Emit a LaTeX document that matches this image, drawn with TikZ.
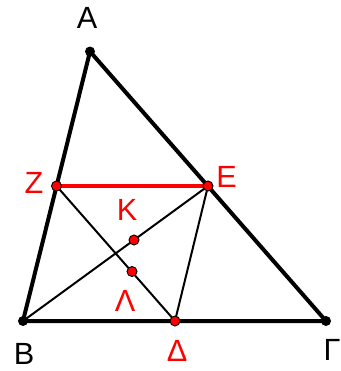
\documentclass[tikz,border=0pt]{standalone}
\usepackage{fontspec}
\setmainfont{Liberation Sans}
\begin{document}
\begin{tikzpicture}[x=0.75pt,y=-0.75pt,
  thickline/.style={line width=3pt},
  thinline/.style={line width=1.5pt},
  redline/.style={line width=2.7pt,red},
  bdot/.style={circle,fill=black,inner sep=0pt,minimum size=7.5pt},
  rdot/.style={circle,fill=red,draw=black,line width=0.7pt,inner sep=0pt,minimum size=7.5pt},
  blab/.style={font=\fontsize{23}{23}\selectfont,text=black,inner sep=0pt},
  rlab/.style={font=\fontsize{23}{23}\selectfont,text=red,inner sep=0pt}]
\useasboundingbox (0,0) rectangle (341,371);
\coordinate (A) at (90,51.5);
\coordinate (B) at (23,321);
\coordinate (G) at (326,321);
\coordinate (Z) at (56.5,186);
\coordinate (E) at (208,186);
\coordinate (D) at (175,321);
\coordinate (K) at (134,240);
\coordinate (L) at (132,271.5);
\draw[thickline] (A) -- (B) -- (G) -- cycle;
\draw[thinline] (Z) -- (D) -- (E) -- (B);
\draw[redline] (Z) -- (E);
\node[bdot] (nA) at (A) {};
\node[bdot] (nB) at (B) {};
\node[bdot] (nG) at (G) {};
\node[rdot] (nZ) at (Z) {};
\node[rdot] (nE) at (E) {};
\node[rdot] (nD) at (D) {};
\node[rdot] (nK) at (K) {};
\node[rdot] (nL) at (L) {};
\node[blab] (lA) at (87,17.5) {Α};
\node[blab] (lB) at (24,353.5) {Β};
\node[blab] (lG) at (332,349.5) {Γ};
\node[rlab] (lZ) at (34,183) {Ζ};
\node[rlab] (lE) at (226.5,177) {Ε};
\node[rlab] (lK) at (127,209.5) {Κ};
\node[rlab] (lL) at (125,300.5) {Λ};
\node[rlab] (lD) at (177,350.5) {Δ};
\end{tikzpicture}
\end{document}
